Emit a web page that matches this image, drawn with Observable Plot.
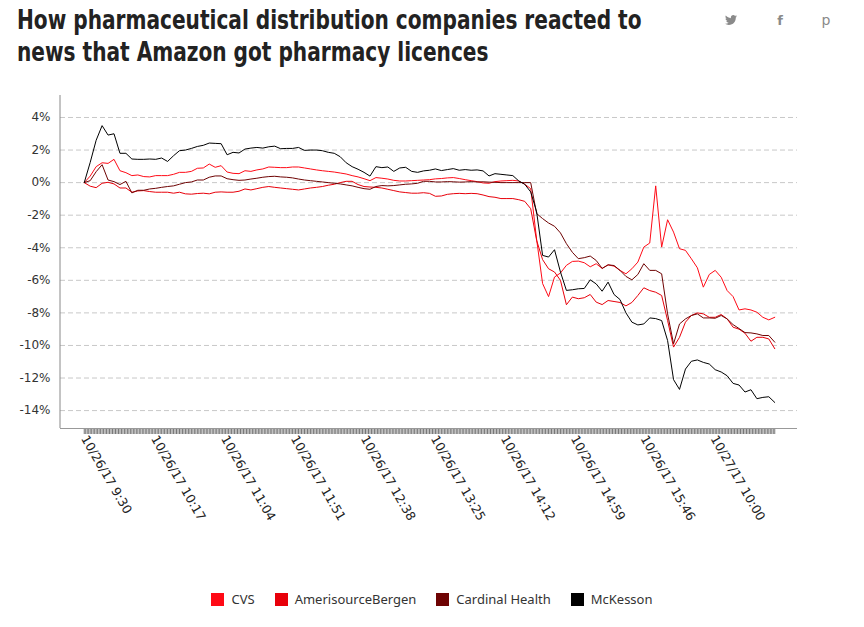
<!DOCTYPE html>
<html><head><meta charset="utf-8">
<script src="https://cdn.jsdelivr.net/npm/d3@7"></script>
<script src="https://cdn.jsdelivr.net/npm/@observablehq/plot@0.6"></script>
<style>
body{margin:0;background:#fff;width:864px;height:627px;overflow:hidden;position:relative;}
#title{position:absolute;left:17px;top:4px;font-family:"DejaVu Sans Condensed","DejaVu Sans",sans-serif;font-weight:bold;font-size:26px;line-height:32px;color:#222;white-space:nowrap;transform:scaleX(0.86);transform-origin:0 0;}
#icons{position:absolute;top:8px;left:0;width:864px;height:24px;}
#chart{position:absolute;left:0;top:80px;}
#legend{position:absolute;top:590px;left:0;width:864px;display:flex;justify-content:center;font-family:"Noto Sans",sans-serif;font-size:13px;color:#333;}
.item{display:flex;align-items:center;margin:0 10px;}
.sw{width:13px;height:13px;margin-right:7px;}
</style></head>
<body>
<div id="title">How pharmaceutical distribution companies reacted to<br>news that Amazon got pharmacy licences</div>
<svg id="icons" width="864" height="24">
  <g fill="#8a8a8a">
    <g transform="translate(725,6) scale(0.5)"><path d="M23.954 4.569c-.885.389-1.83.654-2.825.775 1.014-.611 1.794-1.574 2.163-2.723-.951.555-2.005.959-3.127 1.184-.896-.959-2.173-1.559-3.591-1.559-2.717 0-4.92 2.203-4.92 4.917 0 .39.045.765.127 1.124C7.691 8.094 4.066 6.13 1.64 3.161c-.427.722-.666 1.561-.666 2.475 0 1.71.87 3.213 2.188 4.096-.807-.026-1.566-.248-2.228-.616v.061c0 2.385 1.693 4.374 3.946 4.827-.413.111-.849.171-1.296.171-.314 0-.615-.03-.916-.086.631 1.953 2.445 3.377 4.604 3.417-1.68 1.319-3.809 2.105-6.102 2.105-.39 0-.779-.023-1.170-.067 2.189 1.394 4.768 2.209 7.557 2.209 9.054 0 14.004-7.496 14.004-13.986 0-.209 0-.42-.015-.63.961-.689 1.8-1.56 2.460-2.548l-.047-.02z"/></g>
    <text x="780" y="17" font-family="DejaVu Sans" font-weight="bold" font-size="13" text-anchor="middle">f</text>
    <text x="826" y="17" font-family="DejaVu Sans" font-size="14" text-anchor="middle">p</text>
  </g>
</svg>
<div id="chart"></div>
<div id="legend"></div>
<script>
// Companies and colours
const companies = ["CVS", "AmerisourceBergen", "Cardinal Health", "McKesson"];
const colors = ["#ff0a16", "#e8000a", "#6e0303", "#000000"];

// Trading-minute categories (x axis): 10/26/17 9:30–16:02, then 10/27/17 from 9:30
const sessions = [["10/26/17", 393], ["10/27/17", 72]];
const minutes = [];
for (const [day, n] of sessions) {
  for (let k = 0; k < n; k++) {
    const t = 9 * 60 + 30 + k;
    minutes.push(`${day} ${Math.floor(t / 60)}:${String(t % 60).padStart(2, "0")}`);
  }
}
const labelEvery = 47;          // a label on every 47th minute tick
const sampleStep = 4;           // values below are read every 4th minute
const yTicks = [-14, -12, -10, -8, -6, -4, -2, 0, 2, 4];

// % change, every 4 minutes
const cvs = [
  0, 0.4, 0.98, 1.22, 1.18, 1.43, 0.73, 0.61, 0.43, 0.47,
  0.37, 0.35, 0.43, 0.43, 0.43, 0.51, 0.63, 0.63, 0.69, 0.88,
  0.9, 1.14, 0.94, 1.04, 0.65, 0.57, 0.55, 0.73, 0.69, 0.78,
  0.84, 0.96, 0.94, 0.92, 0.92, 0.96, 0.96, 0.9, 0.84, 0.78,
  0.73, 0.69, 0.65, 0.59, 0.53, 0.43, 0.35, 0.24, 0.12, 0.31,
  0.27, 0.22, 0.14, 0.1, 0.1, 0.12, 0.14, 0.16, 0.18, 0.23,
  0.25, 0.29, 0.31, 0.25, 0.18, 0.12, 0.06, -0.02, -0.04, 0.06,
  0.1, 0.12, 0.14, 0.1, -0.1, -0.37, -3.5, -6.2, -7.0, -5.8,
  -5.55, -5.08, -4.84, -4.82, -4.92, -5.17, -4.98, -5.27, -5.05, -5.13,
  -5.39, -5.6, -5.29, -4.88, -3.96, -3.71, -0.2, -3.96, -2.28, -3.04,
  -4.06, -4.16, -4.68, -5.23, -6.42, -5.64, -5.39, -5.81, -6.63, -7.0,
  -7.82, -7.75, -7.82, -7.96, -8.27, -8.43, -8.27
];
const amerisource = [
  0, -0.22, -0.31, -0.04, 0.02, -0.08, -0.33, -0.33, -0.59, -0.51,
  -0.49, -0.55, -0.59, -0.59, -0.59, -0.65, -0.59, -0.69, -0.71, -0.67,
  -0.65, -0.69, -0.59, -0.57, -0.59, -0.59, -0.53, -0.39, -0.45, -0.37,
  -0.29, -0.24, -0.29, -0.33, -0.37, -0.41, -0.45, -0.39, -0.33, -0.29,
  -0.24, -0.16, -0.1, 0, 0.08, 0.08, -0.12, -0.24, -0.27, -0.29,
  -0.33, -0.41, -0.49, -0.57, -0.61, -0.65, -0.65, -0.62, -0.66, -0.84,
  -0.82, -0.72, -0.68, -0.66, -0.68, -0.66, -0.68, -0.76, -0.86, -0.9,
  -0.98, -0.98, -0.98, -1.05, -1.15, -1.6, -3.55, -4.73, -5.29, -5.49,
  -6.0, -7.5, -7.03, -7.13, -7.07, -6.87, -7.34, -7.49, -7.24, -7.3,
  -7.36, -7.57, -7.36, -6.93, -6.46, -6.63, -6.73, -6.93, -8.47, -10.1,
  -9.5, -8.57, -8.16, -8.0, -8.06, -8.27, -8.27, -8.1, -8.37, -8.88,
  -9.0, -9.25, -9.74, -9.5, -9.5, -9.6, -10.2
];
const cardinal = [
  0, 0.12, 0.67, 1.1, 0.16, 0.06, -0.12, 0.08, -0.63, -0.47,
  -0.47, -0.39, -0.35, -0.29, -0.24, -0.2, -0.1, 0, 0.04, 0.16,
  0.16, 0.33, 0.41, 0.41, 0.24, 0.18, 0.14, 0.16, 0.22, 0.27,
  0.33, 0.37, 0.39, 0.35, 0.33, 0.29, 0.22, 0.16, 0.12, 0.08,
  0.04, 0, -0.04, -0.08, -0.14, -0.2, -0.29, -0.37, -0.41, -0.24,
  -0.18, -0.2, -0.18, -0.14, -0.1, -0.08, -0.04, 0.08, 0.08, 0.04,
  0.04, 0.06, 0.05, 0.03, 0.04, 0.06, 0.04, 0.05, 0.03, 0.02,
  0, 0, 0, 0, 0, 0, -1.9, -2.21, -2.48, -2.68,
  -3.09, -3.75, -4.28, -4.67, -4.61, -4.51, -4.78, -5.27, -5.05, -5.09,
  -5.39, -5.76, -5.97, -5.64, -4.98, -5.39, -5.39, -5.6, -8.06, -9.9,
  -8.68, -8.37, -8.16, -8.06, -8.31, -8.31, -8.33, -8.16, -8.37, -8.72,
  -8.96, -9.21, -9.23, -9.29, -9.39, -9.39, -9.8
];
const mckesson = [
  0, 1.24, 2.6, 3.5, 2.92, 3.0, 1.8, 1.8, 1.45, 1.43,
  1.43, 1.45, 1.43, 1.51, 1.3, 1.65, 1.96, 2.0, 2.1, 2.22,
  2.29, 2.43, 2.41, 2.39, 1.71, 1.86, 1.82, 2.06, 2.12, 2.16,
  2.12, 2.2, 2.24, 2.08, 2.1, 2.1, 2.16, 1.98, 2.0, 2.0,
  1.96, 1.86, 1.8, 1.59, 1.22, 0.98, 0.82, 0.63, 0.4, 0.98,
  0.92, 0.96, 0.69, 0.9, 0.94, 0.69, 0.63, 0.72, 0.76, 0.84,
  0.74, 0.8, 0.86, 0.76, 0.8, 0.76, 0.78, 0.72, 0.41, 0.55,
  0.51, 0.47, 0.43, 0.1, -0.1, -0.57, -1.8, -4.47, -4.57, -4.12,
  -5.49, -6.62, -6.58, -6.52, -6.5, -5.97, -6.22, -6.67, -6.11, -6.87,
  -7.18, -8.0, -8.57, -8.74, -8.68, -8.31, -8.35, -8.47, -9.7, -12.1,
  -12.7, -11.45, -10.97, -10.89, -11.04, -11.14, -11.49, -11.63, -11.86, -12.33,
  -12.43, -12.86, -12.72, -13.27, -13.19, -13.15, -13.5
];
const series = [cvs, amerisource, cardinal, mckesson];

const rows = series.flatMap((vals, s) =>
  vals.map((v, k) => ({company: companies[s], time: minutes[k * sampleStep], value: v}))
);
const labelTicks = minutes.filter((m, i) => i % labelEvery === 0);

const yAxisLine = (index, scales, values, dims) =>
  d3.create("svg:line")
    .attr("x1", dims.marginLeft).attr("x2", dims.marginLeft)
    .attr("y1", dims.marginTop).attr("y2", dims.height - dims.marginBottom)
    .attr("stroke", "#888").node();

const chart = Plot.plot({
  width: 864,
  height: 480,
  marginTop: 15,
  marginBottom: 132,
  marginLeft: 60,
  marginRight: 67,
  style: {fontFamily: "DejaVu Sans", fontSize: "12px", color: "#222", background: "transparent"},
  x: {type: "point", domain: minutes, insetLeft: 23, insetRight: 22},
  y: {domain: [-15.1, 5.35]},
  color: {domain: companies, range: colors},
  marks: [
    Plot.gridY(yTicks, {stroke: "#c8c8c8", strokeOpacity: 1, strokeDasharray: "5,3"}),
    Plot.axisY({ticks: yTicks, tickSize: 0, tickPadding: 10, tickFormat: d => d + "%", label: null, fill: "#333", fontSize: 12}),
    Plot.axisX({ticks: minutes, tickSize: 6, tickFormat: () => "", stroke: "#777", strokeOpacity: 1, label: null}),
    Plot.axisX({ticks: labelTicks, tickSize: 0, tickPadding: 8, tickRotate: 60, label: null, fill: "#222", fontSize: 12.5}),
    Plot.ruleY([-15.1], {stroke: "#999"}),
    yAxisLine,
    Plot.line(rows, {x: "time", y: "value", z: "company", stroke: "company", strokeWidth: 1})
  ]
});
document.getElementById("chart").appendChild(chart);

const legend = d3.select("#legend");
companies.forEach((c, i) => {
  const it = legend.append("div").attr("class", "item");
  it.append("div").attr("class", "sw").style("background", colors[i]);
  it.append("span").text(c);
});
</script>
</body></html>
